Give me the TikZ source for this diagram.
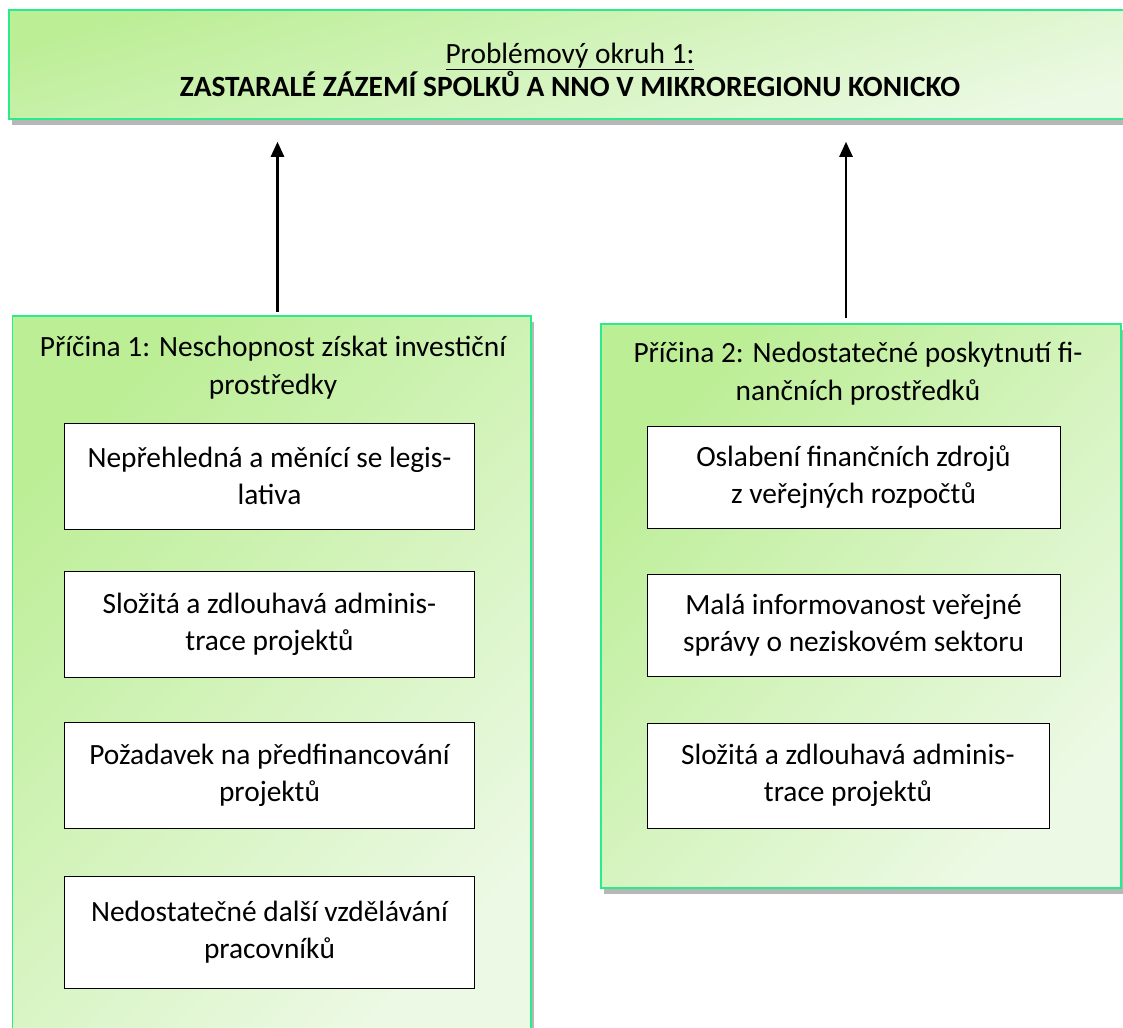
\documentclass[tikz,border=0pt]{standalone}
\usepackage{fontspec}
\setmainfont{Carlito}
\usepackage{xcolor}
\usetikzlibrary{shapes,arrows.meta,positioning,calc,shadows}

\definecolor{gborder}{RGB}{40,235,140}
\definecolor{gdark}{RGB}{188,238,150}
\definecolor{glight}{RGB}{236,249,228}

\begin{document}
\begin{tikzpicture}[x=1bp, y=-1bp,
    gbox/.style={draw=gborder, line width=1.5bp, top color=gdark, bottom color=glight, shading angle=45, inner sep=0pt,
        drop shadow={shadow xshift=3bp, shadow yshift=-6bp, opacity=0.4, fill=black!70}},
    ibox/.style={draw=black, fill=white, line width=1bp, minimum width=409bp, minimum height=106bp, align=center, font=\fontsize{29.5}{37}\selectfont},
    title/.style={align=center, font=\fontsize{29.5}{38}\selectfont},
    arrow/.style={-{Triangle[width=13bp,length=15bp]}, line width=2.5bp, shorten >=22bp}
]
    \clip (0,0) rectangle (1123,1028);

    % Problem box
    \node[gbox, shading angle=15, minimum width=1122bp, minimum height=109bp] (problem) at (570,64.5) {};
    \node[align=center, font=\fontsize{29.5}{33}\selectfont] (problem_text) at ([yshift=-5bp]problem.center) {\underline{Problémový okruh 1:}\\\textbf{ZASTARALÉ ZÁZEMÍ SPOLKŮ A NNO V MIKROREGIONU KONICKO}};

    % Cause 1
    \node[gbox, minimum width=518.5bp, minimum height=729bp] (cause1) at (271.75,680.5) {};
    \node[title] (cause1_title) at (273,367.5) {Příčina 1: Neschopnost získat investiční\\prostředky};
    \node[ibox] (c1_legis) at (269.5,476) {Nepřehledná a měnící se legis-\\lativa};
    \node[ibox] (c1_admin) at (269.5,624) {Složitá a zdlouhavá adminis-\\trace projektů};
    \node[ibox] (c1_predfin) at (269.5,775) {Požadavek na předfinancování\\projektů};
    \node[ibox, minimum height=112bp] (c1_vzdel) at (269.5,932) {Nedostatečné další vzdělávání\\pracovníků};

    % Cause 2
    \node[gbox, minimum width=520bp, minimum height=564bp] (cause2) at (861,606) {};
    \node[title] (cause2_title) at (858,374) {Příčina 2: Nedostatečné poskytnutí fi-\\nančních prostředků};
    \node[ibox, minimum width=413bp, minimum height=102bp] (c2_zdroje) at (853.5,477) {Oslabení finančních zdrojů\\z veřejných rozpočtů};
    \node[ibox, minimum width=413bp, minimum height=102bp] (c2_info) at (853.5,625) {Malá informovanost veřejné\\správy o neziskovém sektoru};
    \node[ibox, minimum width=402bp, minimum height=105bp] (c2_admin) at (848,775.5) {Složitá a zdlouhavá adminis-\\trace projektů};

    % Arrows
    \coordinate (a1) at (277.5,312);
    \coordinate (a2) at (846,318);
    \draw[arrow] (a1) -- (a1 |- problem.south);
    \draw[arrow] (a2) -- (a2 |- problem.south);
\end{tikzpicture}
\end{document}
